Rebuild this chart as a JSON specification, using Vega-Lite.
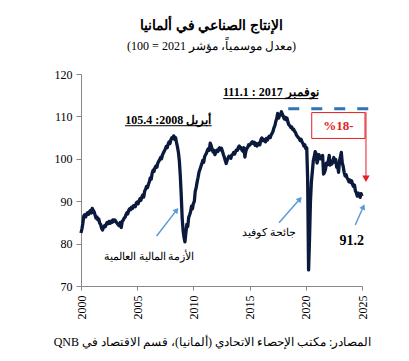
{
  "$schema": "https://vega.github.io/schema/vega-lite/v6.json",
  "width": 281,
  "height": 212,
  "autosize": "none",
  "padding": {"left": 81, "top": 74, "right": 47, "bottom": 75},
  "background": "white",
  "config": {"view": {"stroke": null}, "font": "Liberation Serif"},
  "title": {
    "text": "الإنتاج الصناعي في ألمانيا",
    "subtitle": "\u202b(معدل موسمياً، مؤشر 2021 = 100)\u202c",
    "anchor": "middle",
    "frame": "group",
    "dx": -10,
    "font": "Liberation Serif",
    "fontSize": 14,
    "fontWeight": "bold",
    "color": "black",
    "subtitleFont": "Liberation Serif",
    "subtitleFontSize": 12,
    "subtitleColor": "black",
    "subtitlePadding": 8,
    "offset": 16
  },
  "layer": [
    {
      "data": {"values": [
        {"d":"2000-01","v":82.5},{"d":"2000-02","v":83.5},{"d":"2000-03","v":84.8},{"d":"2000-04","v":86.5},{"d":"2000-05","v":86.8},{"d":"2000-06","v":86.3},{"d":"2000-07","v":87.0},{"d":"2000-08","v":87.3},{"d":"2000-09","v":86.9},{"d":"2000-10","v":87.5},{"d":"2000-11","v":87.8},{"d":"2000-12","v":87.2},
        {"d":"2001-01","v":88.3},{"d":"2001-02","v":87.8},{"d":"2001-03","v":87.5},{"d":"2001-04","v":86.8},{"d":"2001-05","v":86.0},{"d":"2001-06","v":86.3},{"d":"2001-07","v":85.6},{"d":"2001-08","v":85.8},{"d":"2001-09","v":84.8},{"d":"2001-10","v":84.5},{"d":"2001-11","v":83.6},{"d":"2001-12","v":83.2},
        {"d":"2002-01","v":83.8},{"d":"2002-02","v":84.2},{"d":"2002-03","v":84.0},{"d":"2002-04","v":84.6},{"d":"2002-05","v":85.0},{"d":"2002-06","v":84.7},{"d":"2002-07","v":85.2},{"d":"2002-08","v":84.8},{"d":"2002-09","v":85.3},{"d":"2002-10","v":85.0},{"d":"2002-11","v":85.6},{"d":"2002-12","v":85.2},
        {"d":"2003-01","v":85.6},{"d":"2003-02","v":85.3},{"d":"2003-03","v":85.0},{"d":"2003-04","v":84.7},{"d":"2003-05","v":84.4},{"d":"2003-06","v":84.2},{"d":"2003-07","v":85.0},{"d":"2003-08","v":83.8},{"d":"2003-09","v":85.2},{"d":"2003-10","v":85.5},{"d":"2003-11","v":86.0},{"d":"2003-12","v":86.2},
        {"d":"2004-01","v":86.8},{"d":"2004-02","v":87.3},{"d":"2004-03","v":87.0},{"d":"2004-04","v":87.9},{"d":"2004-05","v":88.2},{"d":"2004-06","v":88.0},{"d":"2004-07","v":88.6},{"d":"2004-08","v":88.3},{"d":"2004-09","v":88.9},{"d":"2004-10","v":89.0},{"d":"2004-11","v":88.7},{"d":"2004-12","v":89.6},
        {"d":"2005-01","v":89.8},{"d":"2005-02","v":89.4},{"d":"2005-03","v":90.0},{"d":"2005-04","v":90.6},{"d":"2005-05","v":90.2},{"d":"2005-06","v":91.0},{"d":"2005-07","v":91.5},{"d":"2005-08","v":91.0},{"d":"2005-09","v":92.4},{"d":"2005-10","v":92.8},{"d":"2005-11","v":93.5},{"d":"2005-12","v":93.2},
        {"d":"2006-01","v":94.0},{"d":"2006-02","v":94.6},{"d":"2006-03","v":95.5},{"d":"2006-04","v":95.2},{"d":"2006-05","v":96.6},{"d":"2006-06","v":97.3},{"d":"2006-07","v":97.0},{"d":"2006-08","v":97.9},{"d":"2006-09","v":98.3},{"d":"2006-10","v":98.0},{"d":"2006-11","v":99.0},{"d":"2006-12","v":99.4},
        {"d":"2007-01","v":99.8},{"d":"2007-02","v":100.3},{"d":"2007-03","v":100.0},{"d":"2007-04","v":100.9},{"d":"2007-05","v":101.4},{"d":"2007-06","v":101.8},{"d":"2007-07","v":102.3},{"d":"2007-08","v":102.9},{"d":"2007-09","v":102.6},{"d":"2007-10","v":103.4},{"d":"2007-11","v":104.0},{"d":"2007-12","v":103.6},
        {"d":"2008-01","v":104.5},{"d":"2008-02","v":105.0},{"d":"2008-03","v":104.8},{"d":"2008-04","v":105.4},{"d":"2008-05","v":104.6},{"d":"2008-06","v":105.0},{"d":"2008-07","v":103.8},{"d":"2008-08","v":102.8},{"d":"2008-09","v":101.5},{"d":"2008-10","v":99.5},{"d":"2008-11","v":96.0},{"d":"2008-12","v":91.5},
        {"d":"2009-01","v":86.0},{"d":"2009-02","v":83.0},{"d":"2009-03","v":81.5},{"d":"2009-04","v":80.4},{"d":"2009-05","v":82.5},{"d":"2009-06","v":84.5},{"d":"2009-07","v":84.0},{"d":"2009-08","v":86.2},{"d":"2009-09","v":86.8},{"d":"2009-10","v":87.5},{"d":"2009-11","v":88.8},{"d":"2009-12","v":88.2},
        {"d":"2010-01","v":89.5},{"d":"2010-02","v":90.0},{"d":"2010-03","v":92.3},{"d":"2010-04","v":93.2},{"d":"2010-05","v":94.5},{"d":"2010-06","v":95.6},{"d":"2010-07","v":96.8},{"d":"2010-08","v":97.5},{"d":"2010-09","v":98.2},{"d":"2010-10","v":98.8},{"d":"2010-11","v":99.6},{"d":"2010-12","v":99.2},
        {"d":"2011-01","v":100.5},{"d":"2011-02","v":101.0},{"d":"2011-03","v":101.3},{"d":"2011-04","v":102.0},{"d":"2011-05","v":102.4},{"d":"2011-06","v":102.0},{"d":"2011-07","v":103.7},{"d":"2011-08","v":103.1},{"d":"2011-09","v":102.2},{"d":"2011-10","v":101.6},{"d":"2011-11","v":102.0},{"d":"2011-12","v":101.0},
        {"d":"2012-01","v":101.6},{"d":"2012-02","v":102.0},{"d":"2012-03","v":101.7},{"d":"2012-04","v":102.3},{"d":"2012-05","v":102.6},{"d":"2012-06","v":102.1},{"d":"2012-07","v":102.5},{"d":"2012-08","v":101.8},{"d":"2012-09","v":101.0},{"d":"2012-10","v":100.4},{"d":"2012-11","v":99.6},{"d":"2012-12","v":98.9},
        {"d":"2013-01","v":99.6},{"d":"2013-02","v":100.2},{"d":"2013-03","v":100.6},{"d":"2013-04","v":100.4},{"d":"2013-05","v":100.1},{"d":"2013-06","v":100.9},{"d":"2013-07","v":101.0},{"d":"2013-08","v":101.5},{"d":"2013-09","v":101.1},{"d":"2013-10","v":101.7},{"d":"2013-11","v":102.1},{"d":"2013-12","v":102.0},
        {"d":"2014-01","v":102.7},{"d":"2014-02","v":103.0},{"d":"2014-03","v":102.5},{"d":"2014-04","v":102.6},{"d":"2014-05","v":102.0},{"d":"2014-06","v":101.8},{"d":"2014-07","v":102.6},{"d":"2014-08","v":100.4},{"d":"2014-09","v":101.8},{"d":"2014-10","v":102.4},{"d":"2014-11","v":102.7},{"d":"2014-12","v":103.3},
        {"d":"2015-01","v":103.2},{"d":"2015-02","v":103.5},{"d":"2015-03","v":103.8},{"d":"2015-04","v":104.0},{"d":"2015-05","v":103.6},{"d":"2015-06","v":103.9},{"d":"2015-07","v":103.2},{"d":"2015-08","v":103.6},{"d":"2015-09","v":103.0},{"d":"2015-10","v":103.4},{"d":"2015-11","v":103.7},{"d":"2015-12","v":103.3},
        {"d":"2016-01","v":104.5},{"d":"2016-02","v":104.9},{"d":"2016-03","v":104.3},{"d":"2016-04","v":104.6},{"d":"2016-05","v":104.2},{"d":"2016-06","v":104.0},{"d":"2016-07","v":104.8},{"d":"2016-08","v":104.4},{"d":"2016-09","v":105.0},{"d":"2016-10","v":105.3},{"d":"2016-11","v":105.0},{"d":"2016-12","v":105.6},
        {"d":"2017-01","v":106.0},{"d":"2017-02","v":106.5},{"d":"2017-03","v":107.3},{"d":"2017-04","v":107.8},{"d":"2017-05","v":108.8},{"d":"2017-06","v":109.5},{"d":"2017-07","v":110.7},{"d":"2017-08","v":109.6},{"d":"2017-09","v":110.2},{"d":"2017-10","v":110.3},{"d":"2017-11","v":111.1},{"d":"2017-12","v":110.5},
        {"d":"2018-01","v":110.0},{"d":"2018-02","v":109.4},{"d":"2018-03","v":109.8},{"d":"2018-04","v":109.2},{"d":"2018-05","v":109.6},{"d":"2018-06","v":108.6},{"d":"2018-07","v":108.0},{"d":"2018-08","v":107.8},{"d":"2018-09","v":107.4},{"d":"2018-10","v":107.5},{"d":"2018-11","v":106.9},{"d":"2018-12","v":107.0},
        {"d":"2019-01","v":106.5},{"d":"2019-02","v":106.2},{"d":"2019-03","v":105.6},{"d":"2019-04","v":105.3},{"d":"2019-05","v":105.0},{"d":"2019-06","v":104.8},{"d":"2019-07","v":104.3},{"d":"2019-08","v":104.6},{"d":"2019-09","v":104.0},{"d":"2019-10","v":103.6},{"d":"2019-11","v":103.0},{"d":"2019-12","v":103.3},
        {"d":"2020-01","v":102.4},{"d":"2020-02","v":102.6},{"d":"2020-03","v":95.5},{"d":"2020-04","v":73.8},{"d":"2020-05","v":81.0},{"d":"2020-06","v":90.0},{"d":"2020-07","v":94.5},{"d":"2020-08","v":97.0},{"d":"2020-09","v":99.5},{"d":"2020-10","v":100.5},{"d":"2020-11","v":101.7},{"d":"2020-12","v":101.2},
        {"d":"2021-01","v":99.0},{"d":"2021-02","v":99.8},{"d":"2021-03","v":101.0},{"d":"2021-04","v":100.6},{"d":"2021-05","v":100.0},{"d":"2021-06","v":100.4},{"d":"2021-07","v":100.8},{"d":"2021-08","v":96.4},{"d":"2021-09","v":96.8},{"d":"2021-10","v":97.5},{"d":"2021-11","v":99.0},{"d":"2021-12","v":98.6},
        {"d":"2022-01","v":99.5},{"d":"2022-02","v":100.8},{"d":"2022-03","v":98.5},{"d":"2022-04","v":99.0},{"d":"2022-05","v":98.8},{"d":"2022-06","v":99.6},{"d":"2022-07","v":100.3},{"d":"2022-08","v":99.2},{"d":"2022-09","v":99.8},{"d":"2022-10","v":98.0},{"d":"2022-11","v":98.4},{"d":"2022-12","v":96.8},
        {"d":"2023-01","v":99.5},{"d":"2023-02","v":100.5},{"d":"2023-03","v":101.5},{"d":"2023-04","v":99.0},{"d":"2023-05","v":98.2},{"d":"2023-06","v":96.8},{"d":"2023-07","v":96.0},{"d":"2023-08","v":96.3},{"d":"2023-09","v":95.5},{"d":"2023-10","v":95.2},{"d":"2023-11","v":94.6},{"d":"2023-12","v":95.0},
        {"d":"2024-01","v":94.4},{"d":"2024-02","v":94.8},{"d":"2024-03","v":93.9},{"d":"2024-04","v":93.5},{"d":"2024-05","v":93.8},{"d":"2024-06","v":92.4},{"d":"2024-07","v":92.0},{"d":"2024-08","v":91.2},{"d":"2024-09","v":91.9},{"d":"2024-10","v":91.4},{"d":"2024-11","v":90.9},{"d":"2024-12","v":91.8},
        {"d":"2025-01","v":91.2}
      ]},
      "mark": {"type": "line", "color": "#0b1a3c", "strokeWidth": 3.3, "strokeJoin": "round"},
      "encoding": {
        "x": {
          "field": "d", "type": "temporal",
          "scale": {"type": "utc", "domain": [946684800000, 1735689600000]},
          "axis": {
            "values": [946684800000, 1104537600000, 1262304000000, 1420070400000, 1577836800000, 1735689600000],
            "format": "%Y", "formatType": "utc",
            "labelAngle": -90, "labelFont": "Liberation Serif", "labelFontSize": 12, "labelColor": "black",
            "labelPadding": 5, "labelFlush": false, "labelOverlap": false,
            "domainColor": "#888888", "tickColor": "#888888", "tickSize": 4, "grid": false,
            "title": "\u202bالمصادر: مكتب الإحصاء الاتحادي (ألمانيا)، قسم الاقتصاد في QNB\u202c",
            "titleFont": "Liberation Serif", "titleFontSize": 12, "titleFontWeight": "normal", "titleColor": "black",
            "titlePadding": 17, "titleX": 131
          }
        },
        "y": {
          "field": "v", "type": "quantitative",
          "scale": {"domain": [70, 120], "nice": false, "zero": false},
          "axis": {
            "values": [70, 80, 90, 100, 110, 120],
            "labelFont": "Liberation Serif", "labelFontSize": 12, "labelColor": "black", "labelPadding": 4,
            "domainColor": "#888888", "tickColor": "#888888", "tickSize": 5, "grid": false, "title": null
          }
        }
      }
    },
    {
      "data": {"values": [{"d": "2018-06-10", "d2": "2025-11-10", "v": 111.8}]},
      "mark": {"type": "rule", "color": "#2E75B6", "strokeWidth": 3, "strokeDash": [11, 12]},
      "encoding": {"x": {"field": "d", "type": "temporal"}, "x2": {"field": "d2"}, "y": {"field": "v", "type": "quantitative"}}
    },
    {
      "data": {"values": [{"d": "2020-07-12", "d2": "2025-04-08", "v": 110.9, "v2": 104.8}]},
      "mark": {"type": "rect", "fill": "white", "stroke": "#E31E24", "strokeWidth": 1},
      "encoding": {"x": {"field": "d", "type": "temporal"}, "x2": {"field": "d2"}, "y": {"field": "v", "type": "quantitative"}, "y2": {"field": "v2"}}
    },
    {
      "data": {"values": [{"d": "2022-11-24", "v": 107.7, "t": "%18-"}]},
      "mark": {"type": "text", "color": "#E31E24", "font": "Liberation Serif", "fontSize": 13, "fontWeight": "bold", "align": "center", "baseline": "middle"},
      "encoding": {"x": {"field": "d", "type": "temporal"}, "y": {"field": "v", "type": "quantitative"}, "text": {"field": "t"}}
    },
    {
      "data": {"values": [{"d": "2025-05-10", "v": 111.1, "v2": 95.8}]},
      "mark": {"type": "rule", "color": "#E31E24", "strokeWidth": 1},
      "encoding": {"x": {"field": "d", "type": "temporal"}, "y": {"field": "v", "type": "quantitative"}, "y2": {"field": "v2"}}
    },
    {
      "data": {"values": [{"d": "2025-05-10", "v": 95.3}]},
      "mark": {"type": "point", "shape": "triangle-down", "filled": true, "color": "#E31E24", "size": 55, "opacity": 1},
      "encoding": {"x": {"field": "d", "type": "temporal"}, "y": {"field": "v", "type": "quantitative"}}
    },
    {
      "data": {"values": [
        {"d": "2016-11-20", "v": 114.7, "t": "111.1 : 2017 نوفمبر"},
        {"d": "2007-10-08", "v": 108.2, "t": "105.4 :2008 أبريل"}
      ]},
      "mark": {"type": "text", "color": "black", "font": "Liberation Serif", "fontSize": 12, "fontWeight": "bold", "align": "center", "baseline": "alphabetic"},
      "encoding": {"x": {"field": "d", "type": "temporal"}, "y": {"field": "v", "type": "quantitative"}, "text": {"field": "t"}}
    },
    {
      "data": {"values": [
        {"d": "2012-08-28", "d2": "2021-02-10", "v": 114.2},
        {"d": "2003-11-28", "d2": "2011-08-17", "v": 107.8}
      ]},
      "mark": {"type": "rule", "color": "black", "strokeWidth": 1},
      "encoding": {"x": {"field": "d", "type": "temporal"}, "x2": {"field": "d2"}, "y": {"field": "v", "type": "quantitative"}}
    },
    {
      "data": {"values": [
        {"d": "2006-01-19", "v": 76.8, "t": "الأزمة المالية العالمية"},
        {"d": "2016-09-16", "v": 82.4, "t": "جائحة كوفيد"}
      ]},
      "mark": {"type": "text", "color": "black", "font": "Liberation Serif", "fontSize": 11, "align": "center", "baseline": "middle"},
      "encoding": {"x": {"field": "d", "type": "temporal"}, "y": {"field": "v", "type": "quantitative"}, "text": {"field": "t"}}
    },
    {
      "data": {"values": [{"d": "2024-01-30", "v": 80.6, "t": "91.2"}]},
      "mark": {"type": "text", "color": "black", "font": "Liberation Serif", "fontSize": 14, "fontWeight": "bold", "align": "center", "baseline": "middle"},
      "encoding": {"x": {"field": "d", "type": "temporal"}, "y": {"field": "v", "type": "quantitative"}, "text": {"field": "t"}}
    },
    {
      "data": {"values": [
        {"a": "crisis", "d": "2006-09-24", "v": 81.8, "d2": "2008-07-05", "v2": 87.9},
        {"a": "covid", "d": "2017-08-14", "v": 84.9, "d2": "2019-06-24", "v2": 90.5},
        {"a": "last", "d": "2024-05-26", "v": 84.4, "d2": "2025-02-14", "v2": 88.7}
      ]},
      "layer": [
        {
          "mark": {"type": "rule", "color": "#5B9BD5", "strokeWidth": 1.5},
          "encoding": {"x": {"field": "d", "type": "temporal"}, "y": {"field": "v", "type": "quantitative"}, "x2": {"field": "d2"}, "y2": {"field": "v2"}}
        },
        {
          "transform": [{"filter": "datum.a === 'crisis'"}],
          "mark": {"type": "point", "shape": "triangle-up", "filled": true, "color": "#5B9BD5", "size": 40, "angle": 38, "opacity": 1},
          "encoding": {"x": {"field": "d2", "type": "temporal"}, "y": {"field": "v2", "type": "quantitative"}}
        },
        {
          "transform": [{"filter": "datum.a === 'covid'"}],
          "mark": {"type": "point", "shape": "triangle-up", "filled": true, "color": "#5B9BD5", "size": 40, "angle": 41, "opacity": 1},
          "encoding": {"x": {"field": "d2", "type": "temporal"}, "y": {"field": "v2", "type": "quantitative"}}
        },
        {
          "transform": [{"filter": "datum.a === 'last'"}],
          "mark": {"type": "point", "shape": "triangle-up", "filled": true, "color": "#5B9BD5", "size": 40, "angle": 24, "opacity": 1},
          "encoding": {"x": {"field": "d2", "type": "temporal"}, "y": {"field": "v2", "type": "quantitative"}}
        }
      ]
    }
  ]
}
